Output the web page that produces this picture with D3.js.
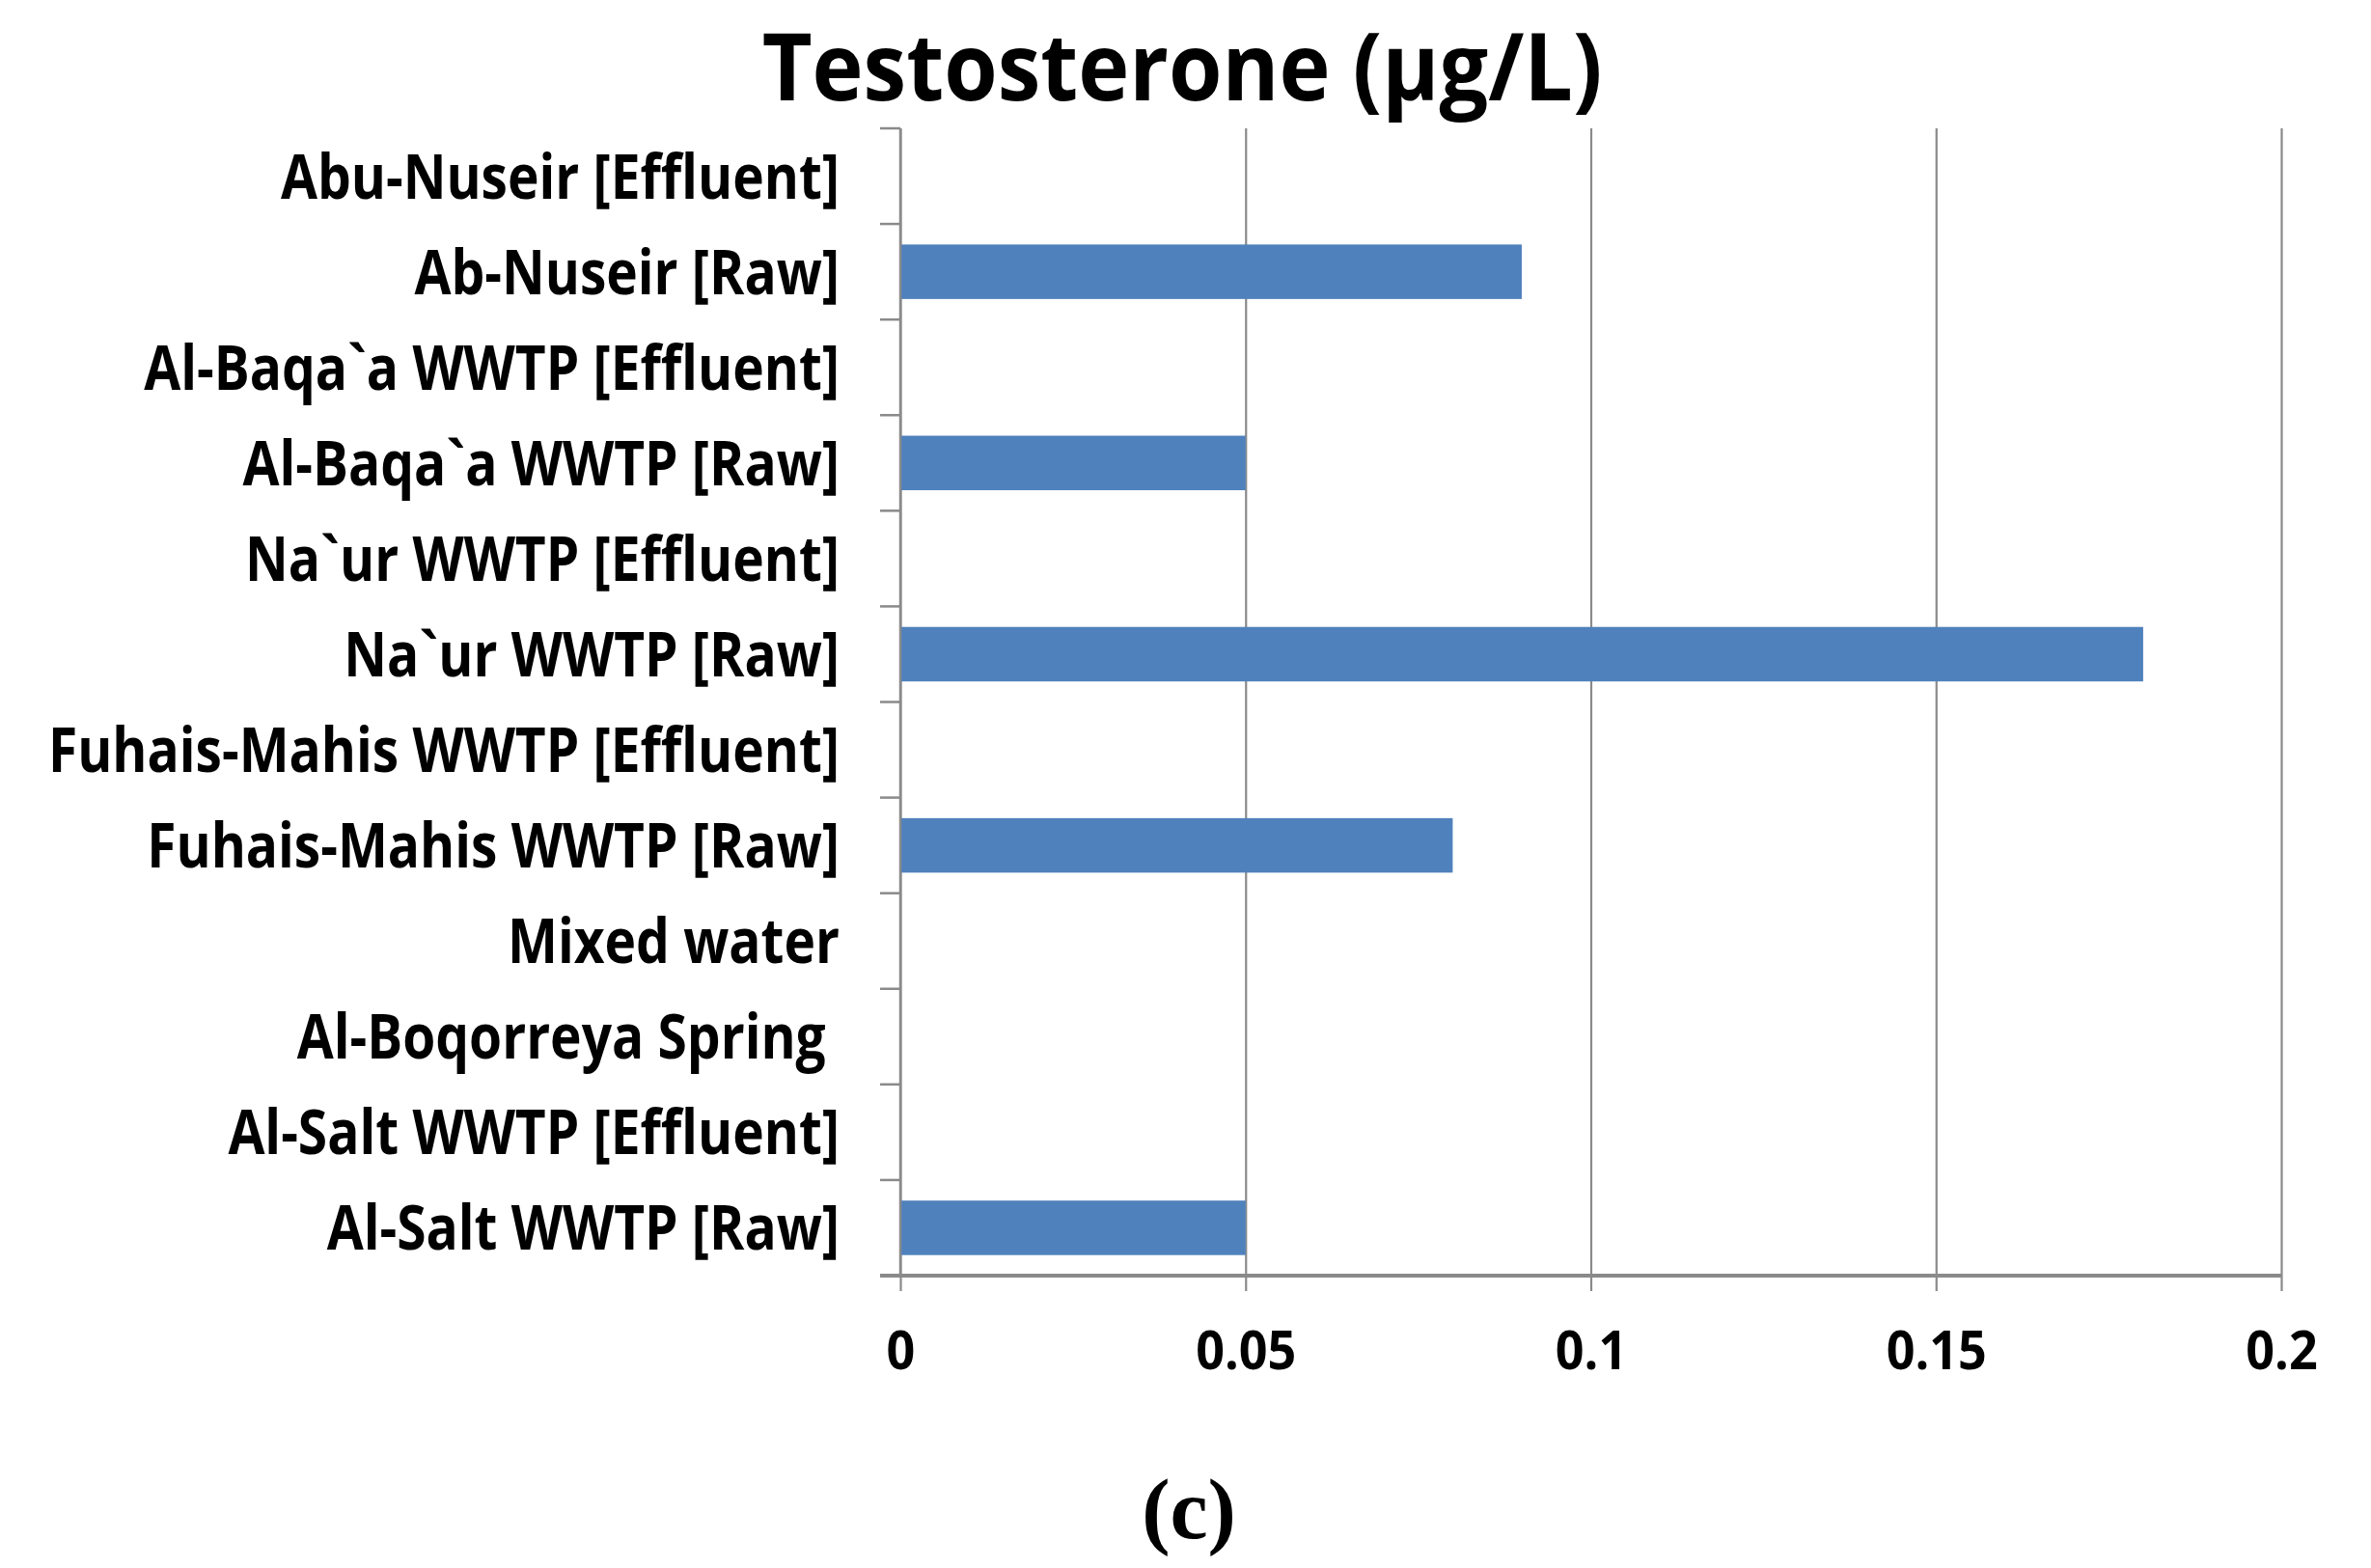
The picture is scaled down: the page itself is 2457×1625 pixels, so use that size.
<head>
<meta charset="utf-8">
<script src="https://d3js.org/d3.v7.min.js"></script>
<style>
  body { margin: 0; background: #fff; }
  text { font-family: "Open Sans", "Liberation Sans", sans-serif; font-weight: bold; fill: #000; }
</style>
</head>
<body>
<svg id="chart" width="2457" height="1625"></svg>
<script>

// data (top to bottom)
const categories = [
  "Abu-Nuseir [Effluent]",
  "Ab-Nuseir [Raw]",
  "Al-Baqa`a WWTP [Effluent]",
  "Al-Baqa`a WWTP [Raw]",
  "Na`ur WWTP [Effluent]",
  "Na`ur WWTP [Raw]",
  "Fuhais-Mahis WWTP [Effluent]",
  "Fuhais-Mahis WWTP [Raw]",
  "Mixed water",
  "Al-Boqorreya Spring ",
  "Al-Salt WWTP [Effluent]",
  "Al-Salt WWTP [Raw]"
]
const testosterone = [0, 0.09, 0, 0.05, 0, 0.18, 0, 0.08, 0, 0, 0, 0.05]
const xTicks = [0, 0.05, 0.1, 0.15, 0.2]
const xTickLabels = ["0", "0.05", "0.1", "0.15", "0.2"]
const title = "Testosterone (\u00b5g/L)"
const caption = "(c)"

const data = categories.map((c, i) => ({name: c, value: testosterone[i]}))

var svg = d3.select("#chart"),
    margin = {top: 133, bottom: 303, left: 933, right: 93},
    W = +svg.attr("width"),
    H = +svg.attr("height")

var x = d3.scaleLinear()
    .domain([0, 0.2])
    .range([margin.left, W - margin.right])

var y = d3.scaleBand()
    .domain(categories)
    .range([margin.top, H - margin.bottom])
    .paddingInner(0.43)
    .paddingOuter(0.215)

const grey = "#8a8a8a"
const condense = 0.86   // Calibri is narrower than the fallback fonts

function squeeze(sel, k) {
    sel.each(function() {
        d3.select(this).attr("textLength", this.getComputedTextLength() * k).attr("lengthAdjust", "spacingAndGlyphs")
    })
}

// vertical gridlines
svg.append("g")
    .attr("transform", "translate(0," + y.range()[1] + ")")
    .call(d3.axisBottom(x).tickValues(xTicks).tickSizeInner(-(y.range()[1] - y.range()[0])).tickSizeOuter(0).tickFormat(""))
    .call(g => g.select(".domain").remove())
    .call(g => g.selectAll("line").attr("stroke", grey).attr("stroke-width", 2.2))

// bars
svg.selectAll(".bar")
    .data(data)
    .enter().append("rect")
    .attr("class", "bar")
    .attr("fill", "#4f81bd")
    .attr("x", x(0))
    .attr("y", d => y(d.name))
    .attr("width", d => x(d.value) - x(0))
    .attr("height", y.bandwidth())

// left axis, ticks sit on the category boundaries
var step = y.step()
var bounds = d3.range(categories.length + 1).map(i => y.range()[0] + i * step)
var left = svg.append("g")
left.append("line")
    .attr("x1", x(0)).attr("x2", x(0))
    .attr("y1", y.range()[0]).attr("y2", y.range()[1])
    .attr("stroke", grey).attr("stroke-width", 2.5)
left.selectAll(".ytick")
    .data(bounds)
    .enter().append("line")
    .attr("class", "ytick")
    .attr("x1", x(0) - 21).attr("x2", x(0))
    .attr("y1", d => d).attr("y2", d => d)
    .attr("stroke", grey).attr("stroke-width", 2.5)

// bottom axis
var xAxis = svg.append("g")
    .attr("transform", "translate(0," + y.range()[1] + ")")
    .call(d3.axisBottom(x).tickValues(xTicks).tickSizeInner(16).tickSizeOuter(0).tickPadding(41)
        .tickFormat((d, i) => xTickLabels[i]))
xAxis.select(".domain").remove()
xAxis.append("line")
    .attr("x1", x(0) - 21).attr("x2", x(0.2))
    .attr("stroke", grey).attr("stroke-width", 4)
xAxis.selectAll(".tick line").attr("stroke", grey).attr("stroke-width", 2.2)
xAxis.selectAll(".tick text")
    .attr("font-size", 56)
    .attr("font-family", null)
    .attr("fill", "#000")
    .call(squeeze, 0.93)

// category labels
svg.selectAll(".cat")
    .data(data)
    .enter().append("text")
    .attr("class", "cat")
    .attr("x", 870)
    .attr("y", d => y(d.name) + y.bandwidth() / 2)
    .attr("dy", "0.36em")
    .attr("text-anchor", "end")
    .attr("font-size", 64)
    .style("white-space", "pre")
    .text(d => d.name)
    .call(squeeze, condense)

// title
svg.append("text")
    .attr("x", 1225)
    .attr("y", 104)
    .attr("text-anchor", "middle")
    .attr("font-size", 97)
    .text(title)
    .call(squeeze, 0.925)

// panel letter
svg.append("text")
    .attr("x", 1232)
    .attr("y", 1594)
    .attr("text-anchor", "middle")
    .attr("font-size", 88)
    .style("font-family", "'Liberation Serif', 'DejaVu Serif', serif")
    .style("font-weight", "bold")
    .text(caption)

</script>
</body>
